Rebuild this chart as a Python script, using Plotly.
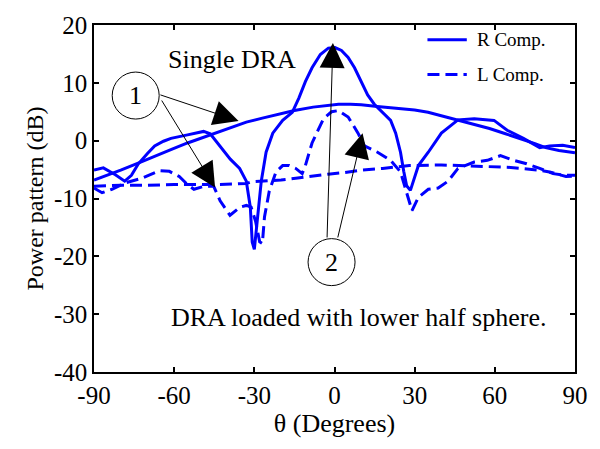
import plotly.graph_objects as go

# ---- data ----
single_r_theta = [-90, -85, -80, -73, -67, -61, -55, -49, -43, -38, -33, -27, -21, -15, -8, -3, 1.5, 6, 10, 16, 22, 26, 30, 35, 40, 46, 52, 58, 64, 71, 75, 79, 84, 90]
single_r_db = [-6.8, -6.0, -5.1, -3.8, -2.6, -1.5, -0.4, 0.6, 1.5, 2.4, 3.2, 3.9, 4.6, 5.2, 5.8, 6.1, 6.3, 6.3, 6.2, 5.9, 5.6, 5.4, 5.3, 4.9, 4.3, 3.5, 2.8, 2.1, 1.2, 0.2, -0.5, -1.2, -1.7, -2.1]

single_l_theta = [-90, -80, -70, -60, -45, -33, -31, -20, -14.5, -8, -2.4, 4, 10, 18, 24.7, 28, 40, 52, 64.6, 76.8, 80.5, 86.6, 90]
single_l_db = [-7.9, -7.7, -7.7, -7.6, -7.6, -7.4, -7.1, -6.8, -6.5, -6.1, -5.8, -5.5, -5.1, -4.8, -4.5, -4.3, -4.2, -4.4, -4.6, -5.1, -5.4, -6.2, -6.1]

loaded_r_theta = [-90, -86.5, -82, -78.5, -76, -73.4, -70, -67.3, -64, -61.2, -55, -49, -46.5, -42.8, -39, -35.5, -33, -31.5, -30.8, -30, -29.3, -28.2, -27.4, -25.6, -23.1, -19.4, -15.8, -13.3, -10.9, -8.4, -5.3, -2.3, 0.2, 2.6, 5.1, 7.5, 10, 12.4, 14.9, 18.6, 21, 22.9, 24.7, 25.9, 27, 28.4, 29.5, 31.4, 35.1, 40, 46.2, 52.3, 59.7, 64.6, 70.7, 76.8, 80.5, 85.4, 90]
loaded_r_db = [-5.1, -4.7, -5.9, -7.0, -6.0, -4.0, -2.2, -0.9, -0.1, 0.4, 1.0, 1.6, 1.2, -0.9, -3.2, -4.8, -7.0, -11.5, -17.5, -18.8, -15.4, -10.5, -7.0, -2.0, 1.3, 3.5, 4.9, 7.4, 10.2, 12.6, 14.9, 16.0, 16.1, 15.6, 14.4, 12.6, 10.2, 7.9, 6.3, 4.6, 3.5, 1.3, -2.0, -5.3, -7.8, -8.6, -7.0, -4.3, -2.0, 1.3, 3.6, 3.8, 3.5, 1.8, 0.4, -1.2, -0.9, -0.8, -1.2]

loaded_l_theta = [-90, -87, -83.3, -78.3, -72.2, -65.5, -61.8, -58.1, -55, -52.6, -48.9, -45.2, -42.8, -39.1, -35.4, -33, -31.2, -29.5, -28, -27, -26.2, -24.4, -21.9, -19.4, -17, -14.5, -12.1, -10.9, -8.4, -6, -4.1, -1.1, 1.4, 5.1, 8.8, 11.2, 16.1, 21, 24.7, 27.2, 29, 31.4, 35.1, 38.8, 42.5, 46.2, 52.3, 57.2, 62.1, 67, 71.9, 76.8, 81.8, 86.7, 90]
loaded_l_db = [-8.2, -9.0, -8.4, -7.3, -6.5, -5.2, -5.3, -6.2, -7.6, -8.4, -7.9, -7.9, -10.4, -12.9, -11.5, -11.2, -11.5, -14.0, -17.5, -17.8, -13.2, -8.7, -5.4, -4.3, -4.3, -4.8, -5.7, -4.3, -0.4, 1.8, 3.8, 5.0, 5.2, 4.1, 1.3, -0.9, -2.0, -3.4, -5.4, -9.3, -12.1, -9.8, -8.4, -8.2, -7.0, -4.8, -3.7, -3.4, -2.6, -3.4, -4.0, -4.8, -5.7, -6.0, -6.0]

x_ticks = [-90, -60, -30, 0, 30, 60, 90]
x_ticktext = ["-90", "-60", "-30", "0", "30", "60", "90"]
y_ticks = [-40, -30, -20, -10, 0, 10, 20]
y_ticktext = ["-40", "-30", "-20", "-10", "0", "10", "20"]

legend_names = ["R Comp.", "L Comp."]

BLUE = "#0000FF"
FONT = "Liberation Serif, Times New Roman, Times, serif"
DASH = "12px,6px"

fig = go.Figure()
fig.add_trace(go.Scatter(x=single_l_theta, y=single_l_db, mode="lines",
                         line=dict(color=BLUE, width=3, dash=DASH), showlegend=False))
fig.add_trace(go.Scatter(x=loaded_l_theta, y=loaded_l_db, mode="lines",
                         line=dict(color=BLUE, width=3, dash=DASH), showlegend=False))
fig.add_trace(go.Scatter(x=single_r_theta, y=single_r_db, mode="lines",
                         line=dict(color=BLUE, width=3), showlegend=False))
fig.add_trace(go.Scatter(x=loaded_r_theta, y=loaded_r_db, mode="lines",
                         line=dict(color=BLUE, width=3), showlegend=False))

# plot area in px: x 94..583, y 22..372
L, R, T, B = 94, 583, 22, 372
def px(xp):
    return (xp - L) / (R - L)
def py(yp):
    return (B - yp) / (B - T)

shapes = []
annotations = []

# custom legend
for i, (name, dash) in enumerate(zip(legend_names, ["solid", DASH])):
    yy = py(37 + 35 * i)
    shapes.append(dict(type="line", xref="paper", yref="paper", x0=px(433), x1=px(473),
                       y0=yy, y1=yy, line=dict(color=BLUE, width=3, dash=dash)))
    annotations.append(dict(xref="paper", yref="paper", x=px(481), y=yy, text=name,
                            showarrow=False, xanchor="left", yanchor="middle",
                            font=dict(family=FONT, size=19, color="black")))

# circles with numbers
for (cx, cy, label) in [(-74.4, 7.8, "1"), (-1.1, -21.0, "2")]:
    shapes.append(dict(type="circle", xref="x", yref="y", xsizemode="pixel", ysizemode="pixel",
                       xanchor=cx, yanchor=cy, x0=-23.5, x1=23.5, y0=-23.5, y1=23.5,
                       line=dict(color="black", width=1), fillcolor="rgba(0,0,0,0)"))
    annotations.append(dict(x=cx, y=cy, text=label, showarrow=False,
                            font=dict(family=FONT, size=26, color="black")))

# arrows
arrows = [((-65.7, 8.0), (-35.9, 3.4)),
          ((-65.0, 7.2), (-44.7, -8.1)),
          ((-2.8, -17.0), (-0.6, 16.9)),
          ((1.1, -17.0), (10.5, 1.3))]
for (sx, sy), (tx, ty) in arrows:
    annotations.append(dict(x=tx, y=ty, ax=sx, ay=sy, xref="x", yref="y", axref="x", ayref="y",
                            text="", showarrow=True, arrowhead=2, arrowsize=5, arrowwidth=1,
                            arrowcolor="black", standoff=0, startstandoff=0))

annotations.append(dict(x=-38.5, y=14.0, text="Single DRA", showarrow=False,
                        font=dict(family=FONT, size=26, color="black")))
annotations.append(dict(x=9.0, y=-30.5, text="DRA loaded with lower half sphere.", showarrow=False,
                        font=dict(family=FONT, size=26, color="black")))

axis_common = dict(showgrid=False, zeroline=False, showline=True, linecolor="black", linewidth=1.5,
                   mirror="ticks", ticks="inside", ticklen=5, tickwidth=1.5, tickcolor="black",
                   tickfont=dict(family=FONT, size=25, color="black"))

fig.update_layout(
    width=600, height=449,
    margin=dict(l=L, r=600 - R, t=T, b=449 - B),
    paper_bgcolor="white", plot_bgcolor="white",
    xaxis=dict(range=[-90, 90], tickvals=x_ticks, ticktext=x_ticktext,
               title=dict(text="θ (Degrees)", font=dict(family=FONT, size=26, color="black"), standoff=5),
               **axis_common),
    yaxis=dict(range=[-40, 20], tickvals=y_ticks, ticktext=y_ticktext,
               title=dict(text="Power pattern (dB)", font=dict(family=FONT, size=24, color="black"), standoff=4),
               **axis_common),
    shapes=shapes, annotations=annotations, showlegend=False,
)

fig.write_html("out.html")
